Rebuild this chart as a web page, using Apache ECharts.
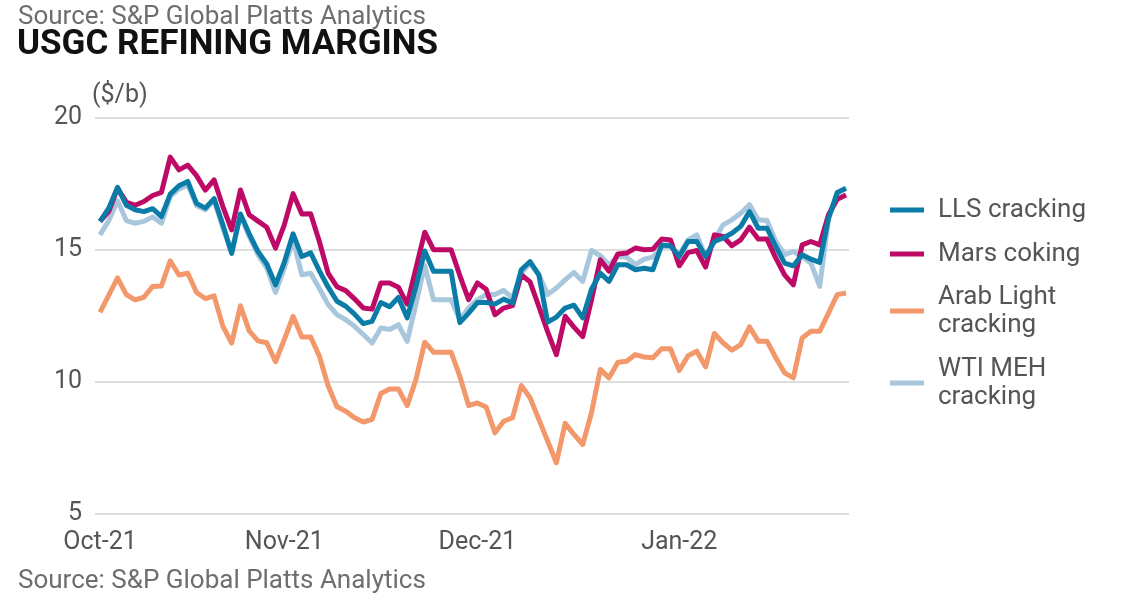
<!DOCTYPE html>
<html>
<head>
<meta charset="utf-8">
<title>USGC refining margins</title>
<script src="https://cdn.jsdelivr.net/npm/echarts@6/dist/echarts.min.js"></script>
<style>
    html, body { margin: 0; padding: 0; background: #fff; }
    #chart { width: 1140px; height: 602px; }
</style>
</head>
<body>
<div id="chart"></div>
<script>
// business days, 1 Oct 2021 - 28 Jan 2022
let tradeDates = [
    '2021-10-01', '2021-10-04', '2021-10-05', '2021-10-06', '2021-10-07', '2021-10-08',
    '2021-10-11', '2021-10-12', '2021-10-13', '2021-10-14', '2021-10-15',
    '2021-10-18', '2021-10-19', '2021-10-20', '2021-10-21', '2021-10-22',
    '2021-10-25', '2021-10-26', '2021-10-27', '2021-10-28', '2021-10-29',
    '2021-11-01', '2021-11-02', '2021-11-03', '2021-11-04', '2021-11-05',
    '2021-11-08', '2021-11-09', '2021-11-10', '2021-11-11', '2021-11-12',
    '2021-11-15', '2021-11-16', '2021-11-17', '2021-11-18', '2021-11-19',
    '2021-11-22', '2021-11-23', '2021-11-24', '2021-11-25', '2021-11-26',
    '2021-11-29', '2021-11-30',
    '2021-12-01', '2021-12-02', '2021-12-03',
    '2021-12-06', '2021-12-07', '2021-12-08', '2021-12-09', '2021-12-10',
    '2021-12-13', '2021-12-14', '2021-12-15', '2021-12-16', '2021-12-17',
    '2021-12-20', '2021-12-21', '2021-12-22', '2021-12-23', '2021-12-24',
    '2021-12-27', '2021-12-28', '2021-12-29', '2021-12-30', '2021-12-31',
    '2022-01-03', '2022-01-04', '2022-01-05', '2022-01-06', '2022-01-07',
    '2022-01-10', '2022-01-11', '2022-01-12', '2022-01-13', '2022-01-14',
    '2022-01-17', '2022-01-18', '2022-01-19', '2022-01-20', '2022-01-21',
    '2022-01-24', '2022-01-25', '2022-01-26', '2022-01-27', '2022-01-28'
];

// $/b
let llsCracking = [
    16.07, 16.57, 17.36, 16.68, 16.51, 16.44, 16.55, 16.25, 17.10, 17.42, 17.58,
    16.75, 16.57, 16.93, 15.94, 14.86, 16.35, 15.60, 14.93, 14.46, 13.67,
    14.52, 15.60, 14.74, 14.88, 14.20, 13.58, 13.05, 12.86, 12.56, 12.20,
    12.29, 13.00, 12.84, 13.19, 12.42, 13.61, 14.95, 14.18, 14.18, 14.18,
    12.24, 12.60, 13.00, 13.00, 12.94, 13.13, 12.98, 14.24, 14.55, 14.05,
    12.26, 12.45, 12.79, 12.90, 12.42, 13.50, 14.11, 13.80, 14.43, 14.43,
    14.24, 14.30, 14.24, 15.18, 15.15, 14.74, 15.31, 15.31, 14.74, 15.31,
    15.44, 15.62, 15.88, 16.44, 15.81, 15.81, 15.12, 14.49, 14.39, 14.81,
    14.64, 14.52, 16.19, 17.16, 17.32
];
let marsCoking = [
    16.07, 16.45, 17.32, 16.80, 16.68, 16.82, 17.05, 17.17, 18.50, 18.02, 18.20,
    17.80, 17.25, 17.64, 16.63, 15.75, 17.26, 16.32, 16.08, 15.85, 15.06,
    15.94, 17.12, 16.35, 16.36, 15.30, 14.10, 13.60, 13.45, 13.14, 12.79,
    12.75, 13.74, 13.74, 13.58, 12.94, 14.30, 15.66, 15.00, 15.00, 15.00,
    14.02, 13.11, 13.74, 13.50, 12.54, 12.79, 12.88, 14.05, 13.78, 12.85,
    11.90, 11.03, 12.48, 12.07, 11.71, 13.10, 14.62, 14.18, 14.84, 14.87,
    15.06, 15.00, 15.02, 15.40, 15.37, 14.39, 14.89, 14.97, 14.34, 15.56,
    15.50, 15.15, 15.37, 15.85, 15.40, 15.40, 14.68, 14.05, 13.67, 15.18,
    15.31, 15.18, 16.32, 16.91, 17.07
];
let arabLightCracking = [
    12.63, 13.28, 13.93, 13.30, 13.10, 13.20, 13.61, 13.63, 14.58, 14.04, 14.11,
    13.38, 13.15, 13.25, 12.10, 11.47, 12.88, 11.93, 11.55, 11.48, 10.76,
    11.60, 12.48, 11.70, 11.70, 10.97, 9.84, 9.06, 8.89, 8.64, 8.48,
    8.58, 9.56, 9.73, 9.73, 9.10, 10.09, 11.50, 11.12, 11.12, 11.12,
    10.21, 9.10, 9.20, 9.05, 8.07, 8.51, 8.64, 9.86, 9.40, 8.58,
    7.76, 6.94, 8.43, 8.01, 7.63, 8.83, 10.47, 10.15, 10.74, 10.78,
    11.03, 10.94, 10.91, 11.25, 11.25, 10.43, 10.99, 11.16, 10.57, 11.83,
    11.47, 11.20, 11.41, 12.08, 11.54, 11.54, 10.91, 10.34, 10.15, 11.66,
    11.91, 11.91, 12.60, 13.30, 13.36
];
let wtiMehCracking = [
    15.56, 16.10, 16.85, 16.10, 16.00, 16.07, 16.24, 16.00, 17.01, 17.30, 17.45,
    16.66, 16.51, 16.88, 15.81, 14.90, 16.32, 15.50, 14.81, 14.30, 13.38,
    14.30, 15.37, 14.05, 14.11, 13.53, 12.92, 12.54, 12.35, 12.10, 11.79,
    11.47, 12.04, 11.98, 12.16, 11.53, 12.95, 14.40, 13.11, 13.11, 13.11,
    12.35, 12.80, 13.11, 13.30, 13.30, 13.46, 13.17, 14.11, 14.49, 14.05,
    13.30, 13.55, 13.86, 14.14, 13.80, 14.97, 14.77, 14.43, 14.74, 14.72,
    14.43, 14.64, 14.72, 15.12, 15.12, 14.81, 15.37, 15.56, 14.74, 15.37,
    15.94, 16.13, 16.38, 16.70, 16.13, 16.10, 15.31, 14.81, 14.93, 14.74,
    14.49, 13.61, 16.13, 17.14, 17.32
];

let monthNames = ['Jan', 'Feb', 'Mar', 'Apr', 'May', 'Jun', 'Jul', 'Aug', 'Sep', 'Oct', 'Nov', 'Dec'];
let fontName = 'Roboto';
let labelGray = '#555555';

// first trading day of every month gets a label
let monthTicks = [];
tradeDates.forEach((d, i) => {
    if (i === 0 || d.slice(0, 7) !== tradeDates[i - 1].slice(0, 7)) {
        monthTicks.push(i);
    }
});

function monthLabel(idx) {
    let d = tradeDates[idx];
    if (!d) return '';
    return monthNames[parseInt(d.slice(5, 7), 10) - 1] + '-' + d.slice(2, 4);
}

function toPoints(values) {
    return values.map((v, i) => [i, v]);
}

var marginsChart = echarts.init(document.getElementById('chart'), null, {renderer: 'canvas'});

function legendFor(name, top, twoLines) {
    return {
        orient: 'vertical',
        left: 890,
        top: top,
        padding: 0,
        icon: 'rect',
        itemWidth: 34,
        itemHeight: 5,
        selectedMode: false,
        data: [name],
        formatter: (n) => twoLines ? n.replace(' cracking', '\ncracking') : n,
        textStyle: {
            fontFamily: fontName,
            fontSize: 26,
            lineHeight: 28,
            color: labelGray,
            // push the second line down so the marker sits on the first one
            padding: twoLines ? [28, 0, 0, 9] : [0, 0, 0, 9]
        }
    };
}

function lineSeries(name, values, color) {
    return {
        name: name,
        type: 'line',
        data: toPoints(values),
        symbol: 'none',
        color: color,
        lineStyle: {
            width: 5,
            color: color,
            join: 'round'
        }
    };
}

var option = {
    animation: false,
    backgroundColor: '#ffffff',
    title: [
        {
            text: 'Source: S&P Global Platts Analytics',
            left: 18,
            top: 4,
            padding: 0,
            textStyle: {fontFamily: fontName, fontSize: 26, fontWeight: 'normal', color: '#6e6e6e'}
        },
        {
            text: 'USGC REFINING MARGINS',
            left: 17,
            top: 28,
            padding: 0,
            textStyle: {fontFamily: fontName, fontSize: 35, fontWeight: 'bold', color: '#111111'}
        },
        {
            text: '($/b)',
            left: 92,
            top: 83,
            padding: 0,
            textStyle: {fontFamily: fontName, fontSize: 25, fontWeight: 'normal', color: labelGray}
        },
        {
            text: 'Source: S&P Global Platts Analytics',
            left: 18,
            top: 568,
            padding: 0,
            textStyle: {fontFamily: fontName, fontSize: 26, fontWeight: 'normal', color: '#6e6e6e'}
        }
    ],
    legend: [
        legendFor('LLS cracking', 196, false),
        legendFor('Mars coking', 240, false),
        legendFor('Arab Light cracking', 269, true),
        legendFor('WTI MEH cracking', 341, true)
    ],
    grid: {
        left: 95,
        right: 291,
        top: 117.5,
        bottom: 88,
        containLabel: false
    },
    xAxis: {
        type: 'value',
        min: -0.57,
        max: tradeDates.length - 1 + 0.34,
        axisLine: {show: false},
        axisTick: {show: false},
        splitLine: {show: false},
        axisLabel: {
            customValues: monthTicks,
            formatter: (v) => monthLabel(Math.round(v)),
            fontFamily: fontName,
            fontSize: 25,
            color: labelGray,
            margin: 16
        }
    },
    yAxis: {
        type: 'value',
        min: 5,
        max: 20,
        interval: 5,
        axisLine: {show: false},
        axisTick: {show: false},
        splitLine: {
            lineStyle: {color: '#dedede', width: 2}
        },
        axisLabel: {
            fontFamily: fontName,
            fontSize: 25,
            color: labelGray,
            margin: 13
        }
    },
    series: [
        lineSeries('WTI MEH cracking', wtiMehCracking, '#a8c7dc'),
        lineSeries('Arab Light cracking', arabLightCracking, '#f3986b'),
        lineSeries('Mars coking', marsCoking, '#be0a67'),
        lineSeries('LLS cracking', llsCracking, '#0b7ca7')
    ]
};

marginsChart.setOption(option);
</script>
</body>
</html>
